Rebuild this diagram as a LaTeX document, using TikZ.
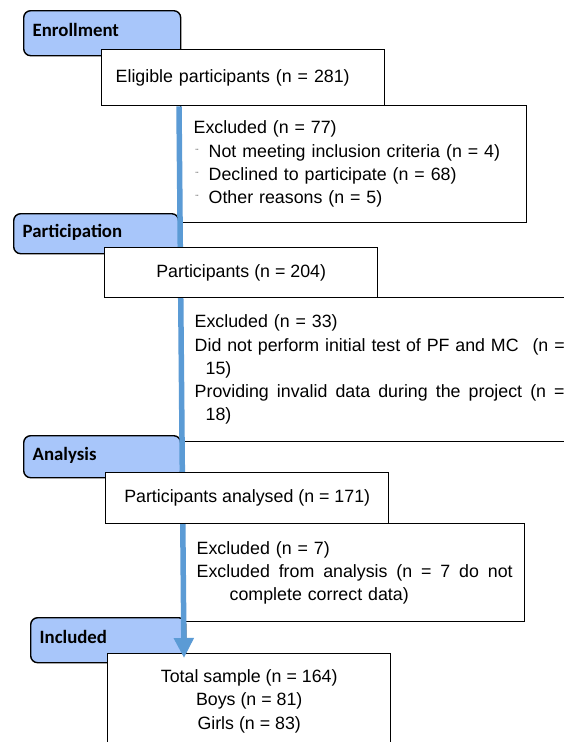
\documentclass[tikz,border=0pt]{standalone}
\usepackage{fontspec}
\setmainfont{Liberation Sans}
\newfontfamily\stagefont{Carlito}
\usepackage{tikz}
\usetikzlibrary{arrows.meta}
\definecolor{stageblue}{RGB}{168,198,250}
\definecolor{flowblue}{RGB}{91,155,213}
\newcommand{\exbullet}{\makebox[15pt][l]{\hspace{2pt}\raisebox{2pt}{\fontsize{9}{9}\selectfont ¨}}}
\newcommand{\justline}[2]{\leavevmode\hbox to #1{\spaceskip=\fontdimen2\font plus 1fil\relax#2}}

\begin{document}
\begin{tikzpicture}[x=1pt, y=-1pt,
    stage/.style={draw, line width=1.4pt, rounded corners=7pt, fill=stageblue,
        anchor=north west, align=left, inner xsep=9pt, text height=13pt, text depth=6pt,
        font=\stagefont\bfseries\fontsize{18.8}{18.8}\selectfont},
    mainbox/.style={draw, line width=1.4pt, fill=white, anchor=north west,
        font=\fontsize{17.8}{23.3}\selectfont},
    exclbox/.style={draw, line width=1.4pt, fill=white, anchor=north west, align=left,
        font=\fontsize{17.8}{23.3}\selectfont}]
    \useasboundingbox[fill=white] (0,0) rectangle (564,742);
    %
    \node[stage, minimum width=157pt, minimum height=45pt, text width=139pt] (enrol) at (23,10) {Enrollment};
    \node[stage, minimum width=165pt, minimum height=40pt, text width=147pt] (partstage) at (13,213) {Participation};
    \node[stage, minimum width=157pt, minimum height=42pt, text width=139pt] (analstage) at (23,435) {Analysis};
    \node[stage, minimum width=155pt, minimum height=45pt, text width=137pt] (inclstage) at (30,617) {Included};
    %
    \node[exclbox, minimum width=346pt, minimum height=117pt, inner xsep=13pt, text width=320pt] (excl1) at (180,105) {%
        Excluded (n = 77)\\
        \exbullet Not meeting inclusion criteria (n = 4)\\
        \exbullet Declined to participate (n = 68)\\
        \exbullet Other reasons (n = 5)};
    \node[exclbox, minimum width=400pt, minimum height=144pt, inner xsep=13pt, text width=374pt] (excl2) at (181,297) {%
        Excluded (n = 33)\\
        \justline{370pt}{Did not perform initial test of PF and MC\hspace{8pt} (n =}\\
        \hspace*{11pt}15)\\
        \justline{370pt}{Providing invalid data during the project (n =}\\
        \hspace*{11pt}18)};
    \node[exclbox, minimum width=340pt, minimum height=98pt, inner xsep=12pt, text width=316pt] (excl3) at (184,523) {%
        Excluded (n = 7)\\
        \justline{316pt}{Excluded from analysis (n = 7 do not}\\
        \hspace*{33pt}complete correct data)};
    %
    \node[mainbox, minimum width=283pt, minimum height=95pt, align=center] (total) at (107,653) {%
        Total sample (n = 164)\\ Boys (n = 81)\\ Girls (n = 83)};
    %
    \node[mainbox, minimum width=283pt, minimum height=56pt, inner xsep=14pt, text width=255pt, align=left] (elig) at (101,49) {Eligible participants (n = 281)};
    \draw[flowblue, line width=5.5pt, -{Triangle[width=19pt,length=20pt]}]
        ([xshift=78pt]elig.south west) -- ([xshift=77pt,yshift=-5pt]total.north west);
    \node[mainbox, minimum width=273pt, minimum height=50pt] (part) at (104,247) {Participants (n = 204)};
    \node[mainbox, minimum width=283pt, minimum height=51pt] (anal) at (105,472) {Participants analysed (n = 171)};
\end{tikzpicture}
\end{document}
